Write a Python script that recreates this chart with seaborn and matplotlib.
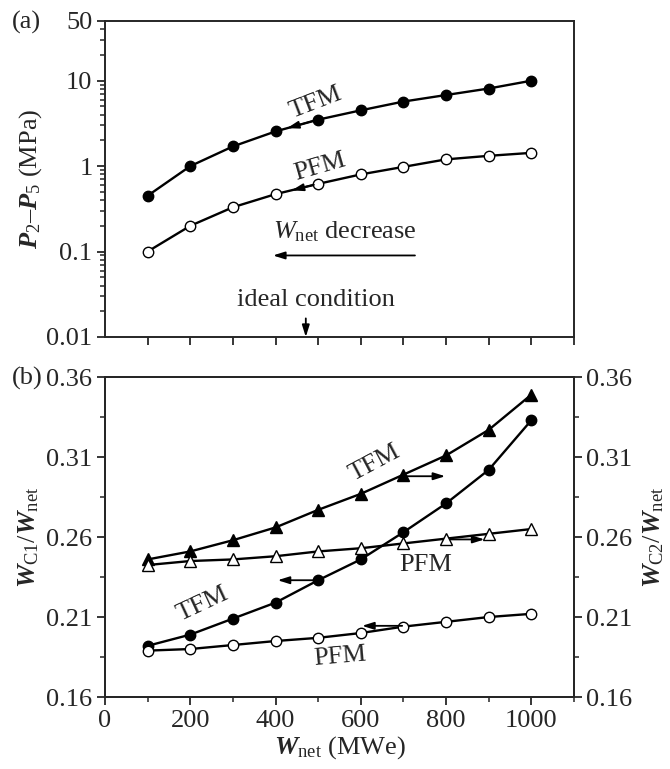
import numpy as np
import pandas as pd
import matplotlib
matplotlib.use("Agg")
import matplotlib.pyplot as plt
import seaborn as sns

# Net power output (MWe)
w_net = [100, 200, 300, 400, 500, 600, 700, 800, 900, 1000]

# (a) pressure drop P2-P5 (MPa)
dp_tfm = [0.45, 1.0, 1.7, 2.55, 3.5, 4.5, 5.7, 6.8, 8.1, 10.0]
dp_pfm = [0.1, 0.2, 0.33, 0.47, 0.62, 0.8, 0.98, 1.2, 1.32, 1.43]

# (b) compressor work fractions
wc1_tfm = [0.192, 0.199, 0.209, 0.219, 0.233, 0.246, 0.263, 0.281, 0.302, 0.333]
wc1_pfm = [0.189, 0.190, 0.1925, 0.195, 0.197, 0.200, 0.204, 0.207, 0.210, 0.212]
wc2_tfm = [0.246, 0.251, 0.258, 0.266, 0.277, 0.287, 0.299, 0.311, 0.327, 0.349]
wc2_pfm = [0.2425, 0.245, 0.246, 0.248, 0.251, 0.253, 0.256, 0.259, 0.262, 0.265]

top_ticks = [0.01, 0.1, 1, 10, 50]
top_ticklabels = ["0.01", "0.1", "1", "10", "50"]
bottom_ticks = [0.16, 0.21, 0.26, 0.31, 0.36]
bottom_ticklabels = ["0.16", "0.21", "0.26", "0.31", "0.36"]
x_ticks = [0, 200, 400, 600, 800, 1000]

sns.set_style("ticks")
serif = ["Liberation Serif", "DejaVu Serif"]
plt.rcParams["font.family"] = serif
plt.rcParams["mathtext.fontset"] = "custom"
plt.rcParams["mathtext.rm"] = "Liberation Serif"
plt.rcParams["mathtext.it"] = "Liberation Serif:italic"
plt.rcParams["mathtext.bf"] = "Liberation Serif:bold"
plt.rcParams["mathtext.bfit"] = "Liberation Serif:italic:bold"
plt.rcParams["axes.linewidth"] = 1.4
plt.rcParams["xtick.major.width"] = 1.3
plt.rcParams["ytick.major.width"] = 1.3
plt.rcParams["xtick.minor.width"] = 1.1
plt.rcParams["ytick.minor.width"] = 1.1

FS = 19

fig = plt.figure(figsize=(6.7, 7.69), dpi=100)
ax_a = fig.add_axes([0.1567, 0.5618, 0.700, 0.4109])
ax_b = fig.add_axes([0.1567, 0.0936, 0.700, 0.4161])
ax_b2 = ax_b.twinx()

def series(ax, y, marker, filled, ms):
    df = pd.DataFrame({"x": w_net, "y": y})
    sns.lineplot(data=df, x="x", y="y", ax=ax, color="black", lw=1.7,
                 marker=marker, markersize=ms,
                 markerfacecolor="black" if filled else "white",
                 markeredgecolor="black", markeredgewidth=1.0)

arrow_kw = dict(arrowstyle="-|>,head_length=0.7,head_width=0.22", color="black",
                lw=1.3, shrinkA=0, shrinkB=0)

# ---------- (a) ----------
series(ax_a, dp_tfm, "o", True, 7.5)
series(ax_a, dp_pfm, "o", False, 7.5)
ax_a.set_yscale("log")
ax_a.set_xlim(0, 1100)
ax_a.set_ylim(0.01, 50)
ax_a.set_yticks(top_ticks)
ax_a.set_yticklabels(top_ticklabels)
ax_a.set_xticks(np.arange(100, 1101, 100))
ax_a.set_xticklabels([])
ax_a.tick_params(axis="both", direction="out", labelsize=FS, length=6, pad=3)
ax_a.tick_params(axis="y", which="minor", direction="out", length=3.5)
ax_a.set_xlabel("")
ax_a.set_ylabel(r"$\mathbfit{P}_2$–$\mathbfit{P}_5$ (MPa)", fontsize=FS, labelpad=2)

ax_a.text(495, 5.6, "TFM", fontsize=FS, rotation=21, ha="center", va="center")
ax_a.text(505, 0.97, "PFM", fontsize=FS, rotation=16, ha="center", va="center")
ax_a.annotate("", xy=(427, 2.78), xytext=(490, 3.4), arrowprops=arrow_kw)
ax_a.annotate("", xy=(438, 0.52), xytext=(490, 0.605), arrowprops=arrow_kw)
ax_a.text(563, 0.17, r"$\mathit{W}_{\rm net}$ decrease", fontsize=FS, ha="center", va="center")
ax_a.annotate("", xy=(394, 0.09), xytext=(727, 0.09), arrowprops=arrow_kw)
ax_a.text(495, 0.027, "ideal condition", fontsize=FS, ha="center", va="center")
ax_a.annotate("", xy=(471, 0.01), xytext=(471, 0.0165), arrowprops=arrow_kw)

# ---------- (b) ----------
series(ax_b, wc1_tfm, "o", True, 7.5)
series(ax_b, wc1_pfm, "o", False, 7.5)
series(ax_b2, wc2_tfm, "^", True, 8)
series(ax_b2, wc2_pfm, "^", False, 8)

for a in (ax_b, ax_b2):
    a.set_xlim(0, 1100)
    a.set_ylim(0.16, 0.36)
    a.set_yticks(bottom_ticks)
    a.set_yticklabels(bottom_ticklabels)
    a.set_yticks(np.arange(0.16, 0.3601, 0.025), minor=True)
    a.tick_params(axis="both", direction="out", labelsize=FS, length=6, pad=3)
    a.tick_params(axis="both", which="minor", direction="out", length=3.5)
ax_b.set_xticks(x_ticks)
ax_b.set_xticks(np.arange(100, 1101, 100), minor=True)
ax_b.set_xlabel(r"$\mathbfit{W}_{\rm net}$ (MWe)", fontsize=FS, labelpad=2)
ax_b.set_ylabel(r"$\mathbfit{W}_{\rm C1}/\mathbfit{W}_{\rm net}$", fontsize=FS, labelpad=4)
ax_b2.set_ylabel(r"$\mathbfit{W}_{\rm C2}/\mathbfit{W}_{\rm net}$", fontsize=FS, labelpad=6)
ax_b2.set_xlabel("")

ax_b.text(633, 0.306, "TFM", fontsize=FS, rotation=28, ha="center", va="center")
ax_b.annotate("", xy=(798, 0.298), xytext=(700, 0.298), arrowprops=arrow_kw)
ax_b.text(753, 0.2425, "PFM", fontsize=FS, ha="center", va="center")
ax_b.annotate("", xy=(890, 0.2585), xytext=(800, 0.2585), arrowprops=arrow_kw)
ax_b.annotate("", xy=(405, 0.233), xytext=(500, 0.233), arrowprops=arrow_kw)
ax_b.text(229, 0.218, "TFM", fontsize=FS, rotation=25, ha="center", va="center")
ax_b.annotate("", xy=(603, 0.2045), xytext=(697, 0.2045), arrowprops=arrow_kw)
ax_b.text(551, 0.185, "PFM", fontsize=FS, rotation=5, ha="center", va="center")

fig.text(0.018, 0.971, "(a)", fontsize=FS, ha="left", va="center")
fig.text(0.018, 0.508, "(b)", fontsize=FS, ha="left", va="center")

fig.savefig("out.png", dpi=100)
